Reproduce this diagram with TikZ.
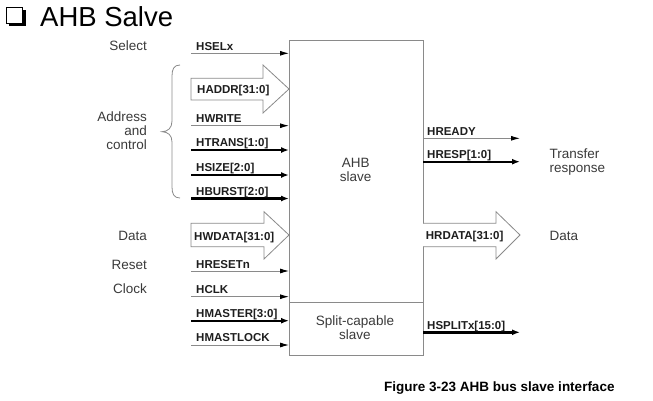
\documentclass[tikz,border=0pt]{standalone}
\usepackage{fontspec}
\setmainfont{Liberation Sans}
\usetikzlibrary{arrows.meta}
\definecolor{linegray}{HTML}{8A8A8A}
\definecolor{txtdark}{HTML}{1E1E1E}
\definecolor{txtgray}{HTML}{3A3A3A}
\tikzset{
  sig/.style={draw=linegray, line width=0.9pt, -{Latex[length=9pt,width=5pt,color=black]}},
  busline/.style={draw=black, line width=2.4pt, -{Latex[length=8pt,width=6pt,color=black]}},
  blockarrow/.style={draw=linegray, fill=white, line width=0.8pt, line join=miter},
  lab/.style={anchor=base west, inner sep=0pt, text=txtdark, font=\fontsize{11.5}{13}\selectfont\bfseries},
  desc/.style={inner sep=0pt, text=txtgray, font=\fontsize{13.5}{14}\selectfont},
  boxst/.style={draw=linegray, line width=0.9pt, inner sep=0pt, outer sep=0pt, anchor=north west}
}
\begin{document}
\begin{tikzpicture}[x=1pt,y=-1pt]
\useasboundingbox (0,0) rectangle (653,400);
% title
\fill[black] (9,9.5) rectangle (26,26);
\draw[black, fill=white, line width=1pt] (6.5,7.5) rectangle (22.5,23);
\node[anchor=base west, inner sep=0pt, font=\fontsize{27.5}{30}\selectfont] (title) at (40,26) {AHB Salve};

% boxes
\node[boxst, minimum width=134pt, minimum height=262pt] (slave) at (289,40) {};
\node[boxst, minimum width=134pt, minimum height=53pt] (split) at (289,302) {};
\node[desc, anchor=base] (ahb1) at (355.7,167.5) {AHB};
\node[desc, anchor=base] (ahb2) at (355.7,181) {slave};
\node[desc, anchor=base] (sp1) at (355,325) {Split-capable};
\node[desc, anchor=base] (sp2) at (355,339) {slave};

% left descriptions
\node[desc, anchor=base east] (dsel) at (147,50) {Select};
\node[desc, anchor=base east] (dadr1) at (147,121.5) {Address};
\node[desc, anchor=base east] (dadr2) at (147,135.3) {and};
\node[desc, anchor=base east] (dadr3) at (147,149) {control};
\node[desc, anchor=base east] (ddata) at (147,240.3) {Data};
\node[desc, anchor=base east] (drst) at (147,269) {Reset};
\node[desc, anchor=base east] (dclk) at (147,293.3) {Clock};

% brace
\draw[linegray, line width=0.8pt] (180,65) .. controls (174,65) and (172,69) .. (172,76)
  -- (172,121) .. controls (172,128) and (168,131.5) .. (162,131.7)
  .. controls (168,132) and (172,135) .. (172,142)
  -- (172,187) .. controls (172,194) and (174,198) .. (180,198);

% left thin signals
\coordinate (hsel) at (191,53.3);
\coordinate (hwrite) at (191,125.7);
\coordinate (hreset) at (191,271);
\coordinate (hclk) at (191,296.7);
\coordinate (hmlock) at (191,345);
\draw[sig] (hsel) -- (hsel -| slave.west);
\draw[sig] (hwrite) -- (hwrite -| slave.west);
\draw[sig] (hreset) -- (hreset -| slave.west);
\draw[sig] (hclk) -- (hclk -| slave.west);
\draw[sig] (hmlock) -- (hmlock -| split.west);
% left buses
\coordinate (htrans) at (191,150);
\coordinate (hsize) at (191,175);
\coordinate (hburst) at (191,198.5);
\coordinate (hmaster) at (191,320.7);
\draw[busline] (htrans) -- (htrans -| slave.west);
\draw[busline] (hsize) -- (hsize -| slave.west);
\draw[busline] (hburst) -- (hburst -| slave.west);
\draw[busline] (hmaster) -- (hmaster -| split.west);

\node[lab] (lsel) at (196,50) {HSELx};
\node[lab] (lwrite) at (196,122.5) {HWRITE};
\node[lab] (ltrans) at (196,146.5) {HTRANS[1:0]};
\node[lab] (lsize) at (196,171.5) {HSIZE[2:0]};
\node[lab] (lburst) at (196,195) {HBURST[2:0]};
\node[lab] (lrst) at (196,268) {HRESETn};
\node[lab] (lclk) at (196,293.5) {HCLK};
\node[lab] (lmaster) at (196,317.2) {HMASTER[3:0]};
\node[lab] (lmlock) at (196,341.8) {HMASTLOCK};

% block arrows in
\draw[blockarrow] (191,78.3) -- (263,78.3) -- (263,65) -- (289,89) -- (263,113) -- (263,100) -- (191,100) -- cycle;
\node[lab] (laddr) at (197,93.5) {HADDR[31:0]};
\draw[blockarrow] (191,223.3) -- (264,223.3) -- (264,211.7) -- (289,235) -- (264,259) -- (264,246.7) -- (191,246.7) -- cycle;
\node[lab] (lwdata) at (194,240.5) {HWDATA[31:0]};

% right outputs
\coordinate (hready) at (520,138.3);
\coordinate (hresp) at (520,161.7);
\coordinate (hsplit) at (520,332.3);
\draw[sig] (slave.east |- hready) -- (hready);
\draw[busline] (slave.east |- hresp) -- (hresp);
\draw[busline] (split.east |- hsplit) -- (hsplit);
\node[lab] (lready) at (427,135) {HREADY};
\node[lab] (lresp) at (427,158.3) {HRESP[1:0]};
\node[lab] (lsplit) at (427,329) {HSPLITx[15:0]};
\draw[blockarrow] (423,223.3) -- (496,223.3) -- (496,211.7) -- (520,235) -- (496,259) -- (496,246.7) -- (423,246.7);
\node[lab] (lrdata) at (425.7,239.5) {HRDATA[31:0]};

\node[desc, anchor=base west] (dtr1) at (549.3,158.3) {Transfer};
\node[desc, anchor=base west] (dtr2) at (549.3,172.5) {response};
\node[desc, anchor=base west] (drdata) at (549.3,240) {Data};

% caption
\node[anchor=base west, inner sep=0pt, font=\fontsize{13.5}{15}\selectfont\bfseries] (caption) at (384,391.7) {Figure 3-23 AHB bus slave interface};
\end{tikzpicture}
\end{document}
